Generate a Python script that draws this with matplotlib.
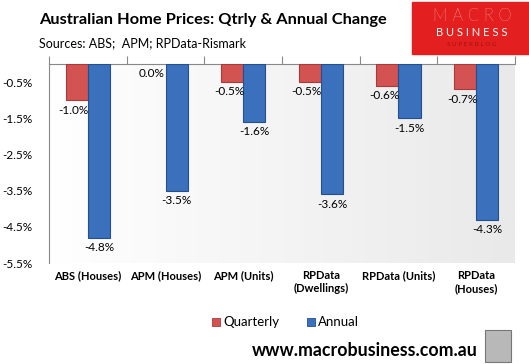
import numpy as np
import matplotlib

matplotlib.use("Agg")
import matplotlib.pyplot as plt
from matplotlib.patches import Rectangle

plt.rcParams["font.family"] = ["Lato", "DejaVu Sans"]

categories = ["ABS (Houses)", "APM (Houses)", "APM (Units)",
              "RPData\n(Dwellings)", "RPData (Units)", "RPData\n(Houses)"]
quarterly = [-1.0, 0.0, -0.5, -0.5, -0.6, -0.7]
annual = [-4.8, -3.5, -1.6, -3.6, -1.5, -4.3]
yticks = [-0.5, -1.5, -2.5, -3.5, -4.5, -5.5]

RED = "#d35352"
BLUE = "#3a70bc"

fig = plt.figure(figsize=(5.29, 3.64), dpi=100)
ax = fig.add_axes([49 / 529, 1 - 263 / 364, 466 / 529, 199 / 364])

# light gradient background of the plot area
grad = np.linspace(0, 1, 256).reshape(1, -1)
ax.imshow(grad, extent=[0, 1, 0, 1], transform=ax.transAxes, aspect="auto",
          cmap=matplotlib.colors.LinearSegmentedColormap.from_list("bg", ["#ffffff", "#e9e9e9"]),
          zorder=0)

x = np.arange(len(categories))
w = 0.285
bq = ax.bar(x - w / 2, quarterly, w, color=RED, edgecolor="#a83a3a",
            linewidth=[0.8 if v else 0 for v in quarterly], zorder=3)
ba = ax.bar(x + w / 2, annual, w, color=BLUE, edgecolor="#24508e", linewidth=0.8, zorder=3)

for b, v in zip(bq, quarterly):
    ax.text(b.get_x() + b.get_width() / 2 - 0.04, v - 0.12, f"{v:.1f}%",
            ha="center", va="top", fontsize=8.5, zorder=4)
for b, v in zip(ba, annual):
    ax.text(b.get_x() + b.get_width() / 2, v - 0.12, f"{v:.1f}%",
            ha="center", va="top", fontsize=8.5, zorder=4)

ax.set_xlim(-0.5, len(categories) - 0.5)
ax.set_ylim(-5.5, 0)
ax.set_yticks(yticks)
ax.set_yticklabels([f"{t:.1f}%" for t in yticks], fontsize=8.5)

ax.set_xticks(np.arange(len(categories) + 1) - 0.5)
ax.set_xticks(x, minor=True)
ax.set_xticklabels(categories, minor=True, fontsize=8, fontweight="bold")
ax.tick_params(axis="x", which="major", top=True, bottom=False, labelbottom=False,
               labeltop=False, direction="out", length=6, color="#888888")
ax.tick_params(axis="x", which="minor", top=False, bottom=False, labelbottom=True,
               length=0, pad=5)
ax.tick_params(axis="y", length=0, pad=12)

for s in ["right", "bottom"]:
    ax.spines[s].set_visible(False)
ax.spines["top"].set_color("#888888")
ax.spines["left"].set_color("#888888")

# title and sources
fig.text(39 / 529, 1 - 20 / 364, "Australian Home Prices: Qtrly & Annual Change",
         fontsize=11.8, fontweight="bold", va="center")
fig.text(39 / 529, 1 - 43 / 364, "Sources: ABS;  APM; RPData-Rismark",
         fontsize=9, va="center")

# logo block
fig.patches.append(Rectangle((412 / 529, 1 - 54 / 364), 117 / 529, 52 / 364,
                             transform=fig.transFigure, color="#e3201f", zorder=1))
fig.text(472 / 529, 1 - 16 / 364, "M A C R O", color="white", fontsize=12,
         fontweight="light", ha="center", va="center")
fig.text(472 / 529, 1 - 33 / 364, "B U S I N E S S", color="white", fontsize=8,
         ha="center", va="center")
fig.text(472 / 529, 1 - 44 / 364, "S U P E R B L O G", color="#a01010", fontsize=4.5,
         ha="center", va="center")

# legend
fig.patches.append(Rectangle((212 / 529, 1 - 326 / 364), 8 / 529, 8 / 364,
                             transform=fig.transFigure, color=RED, ec="#a83a3a", lw=0.6))
fig.text(223 / 529, 1 - 322 / 364, "Quarterly", fontsize=9.5, va="center")
fig.patches.append(Rectangle((307 / 529, 1 - 326 / 364), 8 / 529, 8 / 364,
                             transform=fig.transFigure, color=BLUE, ec="#24508e", lw=0.6))
fig.text(318 / 529, 1 - 322 / 364, "Annual", fontsize=9.5, va="center")

# footer
fig.text(478 / 529, 1 - 350 / 364, "www.macrobusiness.com.au", fontsize=12.8,
         fontweight="bold", ha="right", va="center")
fig.patches.append(Rectangle((485 / 529, 1 - 362 / 364), 26 / 529, 32 / 364,
                             transform=fig.transFigure, fc="#b8b8b8", ec="#777777", lw=0.8))

fig.savefig("out.png", dpi=100)
